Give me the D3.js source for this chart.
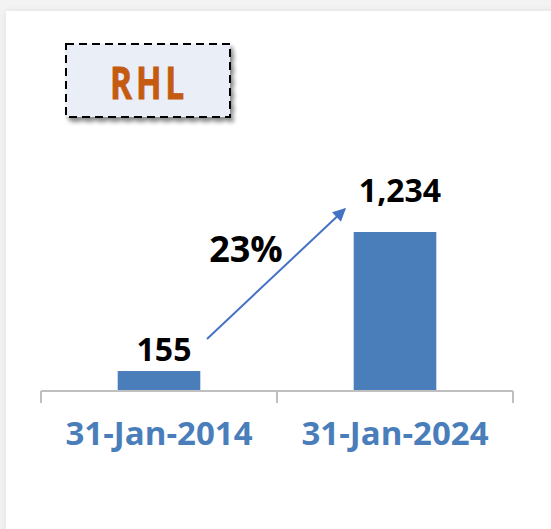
<!DOCTYPE html>
<meta charset="UTF-8">
<style>
  body { margin: 0; background: #f3f3f3; }
  svg { display: block; }
  .bar { fill: #4a7ebb; }
  .value { font: bold 32px "Open Sans", sans-serif; fill: #000; text-anchor: middle; }
</style>
<body>
<svg id="chart" width="551" height="529"></svg>

<script src="https://cdnjs.cloudflare.com/ajax/libs/d3/7.8.5/d3.min.js"></script>
<script>

// data
var categories = ["31-Jan-2014", "31-Jan-2024"];
var values = [155, 1234];
var growthLabel = "23%";
var title = "RHL";

var svg = d3.select("#chart");

// shadows + arrow head
var defs = svg.append("defs");
defs.append("filter").attr("id", "shadow")
    .attr("x", "-10%").attr("y", "-10%").attr("width", "130%").attr("height", "140%")
  .append("feDropShadow")
    .attr("dx", 3).attr("dy", 4).attr("stdDeviation", 2)
    .attr("flood-color", "#000").attr("flood-opacity", 0.45);
defs.append("filter").attr("id", "panelShadow")
  .append("feDropShadow")
    .attr("dx", 0).attr("dy", 0).attr("stdDeviation", 3)
    .attr("flood-color", "#000").attr("flood-opacity", 0.08);
defs.append("marker").attr("id", "arrowHead")
    .attr("viewBox", "0 0 10 10").attr("refX", 9).attr("refY", 5)
    .attr("markerWidth", 7.5).attr("markerHeight", 6.5).attr("orient", "auto")
    .attr("markerUnits", "strokeWidth")
  .append("path").attr("d", "M0,0 L10,5 L0,10 z").attr("fill", "#4472c4");

// white panel
svg.append("rect")
    .attr("x", 6).attr("y", 11).attr("width", 560).attr("height", 530)
    .attr("fill", "#fff").attr("filter", "url(#panelShadow)");

// title box
var tb = svg.append("g");
tb.append("rect")
    .attr("x", 66).attr("y", 44).attr("width", 164).attr("height", 73)
    .attr("fill", "#eaeef7").attr("stroke", "#000").attr("stroke-width", 2)
    .attr("stroke-dasharray", "8,5").attr("filter", "url(#shadow)");
tb.append("text")
    .attr("x", 149).attr("y", 99)
    .attr("text-anchor", "middle")
    .attr("textLength", 78)
    .attr("lengthAdjust", "spacingAndGlyphs")
    .style("font", "bold 44px 'Open Sans', sans-serif")
    .style("letter-spacing", "5px")
    .attr("fill", "#c55a11")
    .attr("stroke", "#c55a11").attr("stroke-width", 0.8)
    .text(title);

// scales
var x = d3.scaleBand()
    .domain(categories)
    .range([41, 513])
    .paddingInner(0.65)
    .paddingOuter(0.325);

var y = d3.scaleLinear()
    .domain([0, 1234])
    .range([391, 232]);

// bars
svg.selectAll(".bar")
  .data(values)
  .enter().append("rect")
    .attr("class", "bar")
    .attr("x", function(d, i) { return x(categories[i]); })
    .attr("width", x.bandwidth())
    .attr("y", function(d) { return y(d); })
    .attr("height", function(d) { return y(0) - y(d); });

// x axis, ticks at band edges
var edges = d3.scalePoint().domain([0, 1, 2]).range([41, 513]);
var axis = svg.append("g").attr("transform", "translate(0," + y(0) + ")");
axis.append("path")
    .attr("stroke", "#bfbfbf").attr("stroke-width", 2)
    .attr("d", "M" + edges(0) + ",0H" + edges(2));
axis.selectAll(".edge")
  .data(edges.domain())
  .enter().append("line")
    .attr("stroke", "#bfbfbf").attr("stroke-width", 2)
    .attr("x1", function(d) { return edges(d); })
    .attr("x2", function(d) { return edges(d); })
    .attr("y1", 0).attr("y2", 12);
axis.selectAll(".cat")
  .data(categories)
  .enter().append("text")
    .attr("x", function(d) { return x(d) + x.bandwidth() / 2; })
    .attr("y", 54)
    .attr("text-anchor", "middle")
    .attr("textLength", 187)
    .attr("lengthAdjust", "spacingAndGlyphs")
    .style("font", "bold 32px 'Open Sans', sans-serif")
    .attr("fill", "#4a7ebb")
    .text(function(d) { return d; });

// value labels (second one lifted clear of the arrow)
var labelGap = [10, 30];
svg.selectAll(".value")
  .data(values)
  .enter().append("text")
    .attr("class", "value")
    .attr("x", function(d, i) { return x(categories[i]) + x.bandwidth() / 2 + 5; })
    .attr("y", function(d, i) { return y(d) - labelGap[i]; })
    .text(function(d) { return d3.format(",")(d); });

// growth arrow
var cx0 = x(categories[0]) + x.bandwidth() / 2,
    cx1 = x(categories[1]) + x.bandwidth() / 2;
svg.append("line")
    .attr("x1", cx0 + 48).attr("y1", y(values[0]) - 32)
    .attr("x2", cx1 - 50).attr("y2", y(values[1]) - 23)
    .attr("stroke", "#4472c4").attr("stroke-width", 2)
    .attr("marker-end", "url(#arrowHead)");

svg.append("text")
    .attr("x", 246).attr("y", 262)
    .attr("text-anchor", "middle")
    .style("font", "bold 36px 'Open Sans', sans-serif")
    .attr("fill", "#000")
    .text(growthLabel);

</script>
</body>
